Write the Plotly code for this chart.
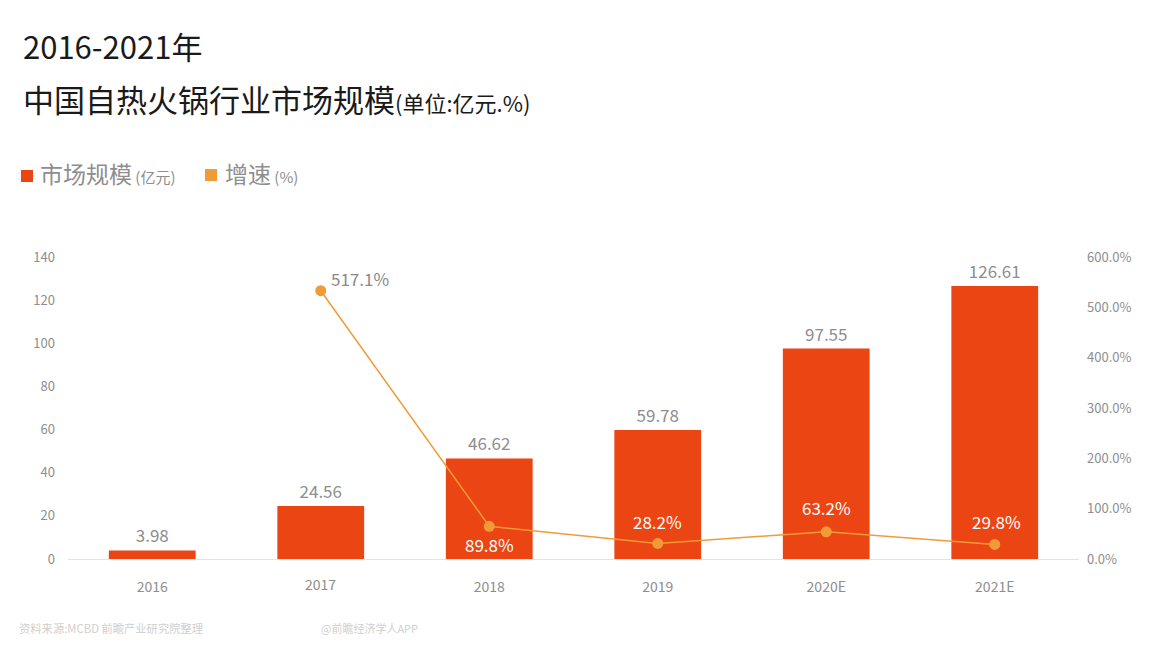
import plotly.graph_objects as go

categories = ["2016", "2017", "2018", "2019", "2020E", "2021E"]
market_size = [3.98, 24.56, 46.62, 59.78, 97.55, 126.61]
growth_points = [None, 533, 65, 31, 54, 29]
growth_labels = [None, "517.1%", "89.8%", "28.2%", "63.2%", "29.8%"]
growth_label_dx = [0, 39, 0, 0, 0, 2]
growth_label_dy = [0, -12, 18, -22, -24, -23]
growth_label_color = [None, "#8a8a8a", "white", "white", "white", "white"]
left_ticks = [0, 20, 40, 60, 80, 100, 120, 140]
right_ticks = [0, 100, 200, 300, 400, 500, 600]
right_tick_text = ["0.0%", "100.0%", "200.0%", "300.0%", "400.0%", "500.0%", "600.0%"]

RED = "#EA4513"
ORANGE = "#F19B38"
GREY = "#8e8e8e"
FONT = "Noto Sans CJK SC"
OFF = 8  # page margin of the browser body
W, H = 1170 - OFF, 654 - OFF
L, T = 68 - OFF, 257 - OFF
PW, PH = 1011, 302
R, B = W - L - PW, H - T - PH

fig = go.Figure()
fig.add_trace(go.Bar(
    x=categories, y=market_size, width=0.515, marker=dict(color=RED, line=dict(width=0)),
    text=[f"{v:.2f}" for v in market_size], textposition="outside", cliponaxis=False,
    textfont=dict(size=17, color=GREY, family=FONT), showlegend=False, hoverinfo="skip"))
fig.add_trace(go.Scatter(
    x=categories, y=growth_points, yaxis="y2", mode="lines+markers",
    line=dict(color=ORANGE, width=1.5), marker=dict(color=ORANGE, size=11),
    showlegend=False, connectgaps=False, hoverinfo="skip"))

for i, (y, t, dx, dy, col) in enumerate(zip(growth_points, growth_labels, growth_label_dx,
                                            growth_label_dy, growth_label_color)):
    if t is None:
        continue
    fig.add_annotation(x=i, y=y, yref="y2", text=t, showarrow=False, xshift=dx, yshift=-dy,
                       font=dict(size=17, color=col, family=FONT))


def note(x, y, text, size, color):
    fig.add_annotation(x=(x - 68) / PW, y=(559 - y) / PH, xref="paper", yref="paper",
                       xanchor="left", yanchor="middle", text=text, showarrow=False,
                       xshift=-1, font=dict(size=size, color=color, family=FONT))


def swatch(x, y, color):
    fig.add_shape(type="rect", xref="paper", yref="paper", line=dict(width=0), fillcolor=color,
                  x0=(x - 68) / PW, x1=(x + 12 - 68) / PW,
                  y0=(559 - y - 6) / PH, y1=(559 - y + 6) / PH)


note(22, 45, "2016-2021年", 31, "#1a1a1a")
note(22, 98, "中国自热火锅行业市场规模<span style='font-size:22px'>(单位:亿元.%)</span>", 31, "#1a1a1a")
swatch(21, 176, RED)
note(39, 173, "市场规模<span style='font-size:15px'> (亿元)</span>", 23, GREY)
swatch(205, 175, ORANGE)
note(224, 173, "增速<span style='font-size:15px'> (%)</span>", 23, GREY)
note(18, 628, "资料来源:MCBD 前瞻产业研究院整理", 11.3, "#cfcfcf")
note(320, 628, "@前瞻经济学人APP", 11, "#cfcfcf")

# the 2017 tick label sits slightly higher than the others in the reference
fig.add_annotation(x=1, y=0, yref="paper", yanchor="top", text=categories[1], showarrow=False,
                   yshift=-13, font=dict(size=14, color=GREY, family=FONT))

fig.update_layout(
    width=W, height=H, autosize=False,
    margin=dict(l=L, r=R, t=T, b=B, pad=0),
    paper_bgcolor="white", plot_bgcolor="white",
    showlegend=False,
    font=dict(family=FONT, color=GREY),
    xaxis=dict(type="category", categoryorder="array", categoryarray=categories, range=[-0.5, 5.5],
               tickmode="array", tickvals=categories, ticktext=[c if c != "2017" else " " for c in categories],
               showgrid=False, showline=True, linecolor="#e3e3e3", linewidth=1, ticks="",
               tickfont=dict(size=14, color=GREY, family=FONT), ticklabelstandoff=15),
    yaxis=dict(range=[0, 140], tickvals=left_ticks, showgrid=False, zeroline=False, ticks="",
               tickfont=dict(size=13, color=GREY, family=FONT), ticklabelstandoff=12),
    yaxis2=dict(range=[0, 600], tickvals=right_ticks, ticktext=right_tick_text, overlaying="y", side="right",
                showgrid=False, zeroline=False, ticks="",
                tickfont=dict(size=13, color=GREY, family=FONT), ticklabelstandoff=7),
)
fig.write_html("out.html")
